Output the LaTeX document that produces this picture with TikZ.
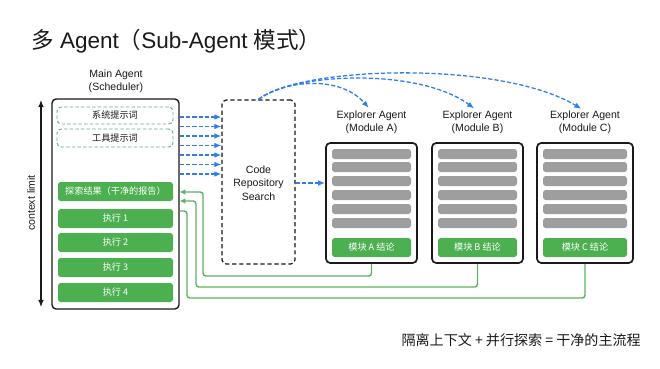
\documentclass[tikz,border=0pt]{standalone}
\usepackage{fontspec}
\setmainfont{Liberation Sans}
\newfontfamily\cjk{Noto Sans CJK SC}
\usepackage{tikz}
\usetikzlibrary{arrows.meta, positioning, calc, fit}
\definecolor{Ink}{HTML}{1A1A1A}
\definecolor{Flow}{HTML}{2F7DF0}
\definecolor{Leaf}{HTML}{4CAF50}
\definecolor{LeafLine}{HTML}{5DB162}
\definecolor{Mist}{HTML}{9E9E9E}
\definecolor{Sage}{HTML}{6BAF86}

\begin{document}
\begin{tikzpicture}[
  x=0.025cm, y=-0.025cm,
  font=\fontsize{7.5pt}{9pt}\selectfont,
  lbl/.style={align=center, text=Ink, inner sep=0pt},
  panel/.style={draw=Ink, line width=1pt, rounded corners=3pt, inner sep=0pt, fill=white},
  searchbox/.style={draw=Ink, line width=0.9pt, dash pattern=on 3pt off 2pt, rounded corners=3pt, inner sep=0pt},
  prompt/.style={draw=Sage, line width=0.7pt, dash pattern=on 2.5pt off 1.5pt, rounded corners=3pt, inner sep=0pt},
  bar/.style={fill=Leaf, rounded corners=2pt, inner sep=0pt},
  slab/.style={fill=Mist, rounded corners=2pt, inner sep=0pt},
  tag/.style={inner sep=0pt, text=Ink, font=\cjk\fontsize{6.5pt}{8pt}\selectfont},
  bartag/.style={tag, text=white},
  flow/.style={-{Latex[length=5pt, width=4pt]}, draw=Flow, line width=0.9pt, dash pattern=on 3pt off 1.5pt},
  back/.style={-{Latex[length=4pt, width=4pt]}, draw=LeafLine, line width=1pt, rounded corners=2pt},
  limit/.style={{Latex[length=5pt, width=4pt]}-{Latex[length=5pt, width=4pt]}, draw=Ink, line width=0.8pt}
]
\path[use as bounding box, fill=white] (0,0) rectangle (660,369);

\node[anchor=west, inner sep=0pt, text=Ink, font=\fontsize{16pt}{19pt}\selectfont] (title) at (31,41) {{\cjk 多} Agent{\cjk （}Sub-Agent {\cjk 模式）}};

% main agent
\node[lbl] (mainlbl) at (116,81) {Main Agent\\(Scheduler)};
\node[panel, fit={(52,99) (179,309)}] (main) {};
\node[prompt, fit={(57,107) (173,124)}] (sysp) {};
\node[tag] (sysptag) at (sysp.center) {系统提示词};
\node[prompt, fit={(57,129) (173,147)}] (toolp) {};
\node[tag] (toolptag) at (toolp.center) {工具提示词};
\node[bar, fit={(58,182) (173,201)}] (found) {};
\node[bartag] (foundtag) at (found.center) {探索结果（干净的报告）};
\foreach \n/\yy in {1/209, 2/233, 3/258, 4/283} {
  \node[bar, fit={(58,\yy) (173,\yy+19)}] (run\n) {};
  \node[bartag] (runtag\n) at (run\n.center) {执行 \n};
}

\coordinate (ctxtop) at (41,100);
\coordinate (ctxbot) at (41,307);
\draw[limit] (ctxtop) -- (ctxbot);
\node[lbl, rotate=90] (ctxlbl) at (31,203) {context limit};

% search
\node[searchbox, fit={(222,100) (295,264)}] (search) {};
\node[lbl, font=\fontsize{7.5pt}{9.7pt}\selectfont] (searchlbl) at (258.5,183) {Code\\Repository\\Search};

% explorers
\foreach \m/\l/\r in {A/326/417, B/432/523, C/537/633} {
  \node[panel, line width=1.2pt, fit={(\l,143) (\r,263)}] (mod\m) {};
  \foreach \yy in {149,162,176,190,204,218}
    \node[slab, fit={(\l+6,\yy) (\r-6,\yy+10)}] (slab\m\yy) {};
  \node[bar, fit={(\l+6,238) (\r-6,257)}] (end\m) {};
  \node[bartag] (endtag\m) at (end\m.center) {模块 \m\ 结论};
  \node[lbl] (ex\m) at ({(\l+\r)/2},122.5) {Explorer Agent\\(Module \m)};
}

\foreach \yy in {117,126.5,...,174}
  \draw[flow] (main.east |- 0,\yy) -- (search.west |- 0,\yy);
\draw[flow] (search.east |- 0,183) -- (modA.west |- 0,183);

\draw[flow, shorten >=3pt] (search.north) .. controls (285,80) and (340,75) .. (exA.north);
\draw[flow, shorten >=3pt] (search.north) .. controls (295,72) and (420,68) .. (exB.north);
\draw[flow, shorten >=3pt] (search.north) .. controls (300,66) and (500,60) .. (exC.north);

\draw[back] (modA.south) |- (203,276) |- (main.east |- 0,192);
\draw[back] (modB.south) |- (196,287) |- (main.east |- 0,201);
\draw[back, -] (modC.south) |- (187,298) |- (main.east |- 0,211);

\node[anchor=east, inner sep=0pt, text=Ink, font=\cjk\fontsize{10pt}{12pt}\selectfont] (motto) at (641,340) {隔离上下文 + 并行探索 = 干净的主流程};
\end{tikzpicture}
\end{document}
